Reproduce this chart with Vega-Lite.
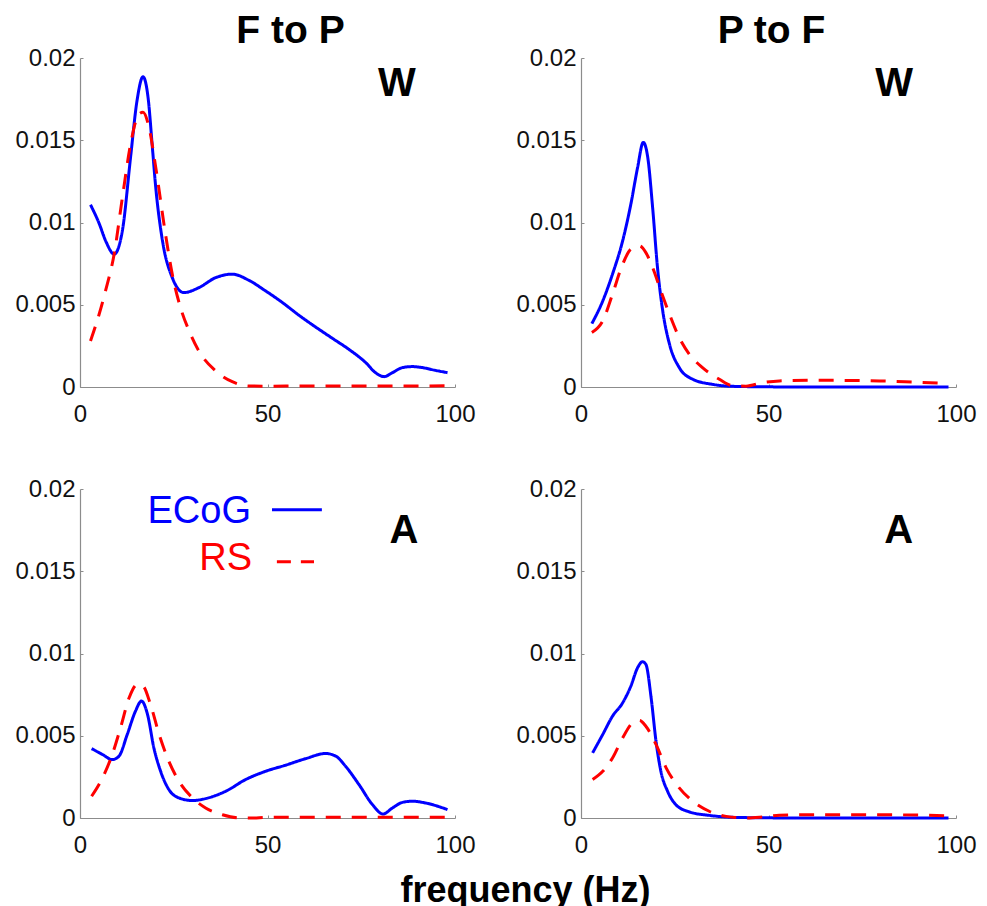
{
  "$schema": "https://vega.github.io/schema/vega-lite/v6.json",
  "padding": {"left": 14, "top": 12, "right": 5, "bottom": 0},
  "background": "white",
  "bounds": "flush",
  "columns": 2,
  "spacing": {"row": 102, "column": 126},
  "title": {"text": "frequency (Hz)", "orient": "bottom", "anchor": "middle", "fontSize": 36, "fontWeight": "bold", "font": "Liberation Sans", "color": "#000000", "offset": 17, "dx": 30},
  "datasets": {
    "curves": [
      {"p":"FP_W","s":"ECoG","f":2.8,"v":0.01108},{"p":"FP_W","s":"ECoG","f":5,"v":0.0100},{"p":"FP_W","s":"ECoG","f":7,"v":0.0088},{"p":"FP_W","s":"ECoG","f":9.1,"v":0.00807},{"p":"FP_W","s":"ECoG","f":11.3,"v":0.0095},{"p":"FP_W","s":"ECoG","f":13.5,"v":0.0140},{"p":"FP_W","s":"ECoG","f":15.2,"v":0.0174},{"p":"FP_W","s":"ECoG","f":16.8,"v":0.01886},{"p":"FP_W","s":"ECoG","f":18.2,"v":0.0175},{"p":"FP_W","s":"ECoG","f":19.3,"v":0.01456},{"p":"FP_W","s":"ECoG","f":20.2,"v":0.01213},{"p":"FP_W","s":"ECoG","f":22,"v":0.00888},{"p":"FP_W","s":"ECoG","f":24.6,"v":0.00665},{"p":"FP_W","s":"ECoG","f":27.7,"v":0.00574},{"p":"FP_W","s":"ECoG","f":31.7,"v":0.00604},{"p":"FP_W","s":"ECoG","f":36.2,"v":0.00665},{"p":"FP_W","s":"ECoG","f":40.6,"v":0.00686},{"p":"FP_W","s":"ECoG","f":45,"v":0.00649},{"p":"FP_W","s":"ECoG","f":49.5,"v":0.00584},{"p":"FP_W","s":"ECoG","f":54,"v":0.00513},{"p":"FP_W","s":"ECoG","f":58.4,"v":0.00436},{"p":"FP_W","s":"ECoG","f":62.8,"v":0.00365},{"p":"FP_W","s":"ECoG","f":67.3,"v":0.00296},{"p":"FP_W","s":"ECoG","f":71.7,"v":0.00229},{"p":"FP_W","s":"ECoG","f":76.2,"v":0.00148},{"p":"FP_W","s":"ECoG","f":78.8,"v":0.00087},{"p":"FP_W","s":"ECoG","f":81.1,"v":0.00063},{"p":"FP_W","s":"ECoG","f":83.3,"v":0.00087},{"p":"FP_W","s":"ECoG","f":86,"v":0.00118},{"p":"FP_W","s":"ECoG","f":88.6,"v":0.00124},{"p":"FP_W","s":"ECoG","f":91.3,"v":0.00118},{"p":"FP_W","s":"ECoG","f":94.8,"v":0.00101},{"p":"FP_W","s":"ECoG","f":98,"v":0.00087},
      {"p":"FP_W","s":"RS","f":2.8,"v":0.0028},{"p":"FP_W","s":"RS","f":5.1,"v":0.00442},{"p":"FP_W","s":"RS","f":6.8,"v":0.00584},{"p":"FP_W","s":"RS","f":9.1,"v":0.00807},{"p":"FP_W","s":"RS","f":11.3,"v":0.01152},{"p":"FP_W","s":"RS","f":13.5,"v":0.01477},{"p":"FP_W","s":"RS","f":15.7,"v":0.01659},{"p":"FP_W","s":"RS","f":16.8,"v":0.0167},{"p":"FP_W","s":"RS","f":18.4,"v":0.01578},{"p":"FP_W","s":"RS","f":20.2,"v":0.01335},{"p":"FP_W","s":"RS","f":22.8,"v":0.00929},{"p":"FP_W","s":"RS","f":24.6,"v":0.00686},{"p":"FP_W","s":"RS","f":26.8,"v":0.00483},{"p":"FP_W","s":"RS","f":29.1,"v":0.00341},{"p":"FP_W","s":"RS","f":31.7,"v":0.00219},{"p":"FP_W","s":"RS","f":36.2,"v":0.00097},{"p":"FP_W","s":"RS","f":40.6,"v":0.00032},{"p":"FP_W","s":"RS","f":45,"v":0.00006},{"p":"FP_W","s":"RS","f":49.5,"v":0.00005},{"p":"FP_W","s":"RS","f":60,"v":0.00006},{"p":"FP_W","s":"RS","f":70,"v":0.00006},{"p":"FP_W","s":"RS","f":80,"v":0.00006},{"p":"FP_W","s":"RS","f":90,"v":0.00006},{"p":"FP_W","s":"RS","f":98,"v":0.00008},
      {"p":"PF_W","s":"ECoG","f":2.9,"v":0.00385},{"p":"PF_W","s":"ECoG","f":5.8,"v":0.00523},{"p":"PF_W","s":"ECoG","f":8.4,"v":0.00686},{"p":"PF_W","s":"ECoG","f":11.1,"v":0.00888},{"p":"PF_W","s":"ECoG","f":13.3,"v":0.01112},{"p":"PF_W","s":"ECoG","f":15.1,"v":0.01335},{"p":"PF_W","s":"ECoG","f":16.6,"v":0.01487},{"p":"PF_W","s":"ECoG","f":17.8,"v":0.01396},{"p":"PF_W","s":"ECoG","f":19.1,"v":0.01091},{"p":"PF_W","s":"ECoG","f":20.4,"v":0.00726},{"p":"PF_W","s":"ECoG","f":21.8,"v":0.00462},{"p":"PF_W","s":"ECoG","f":23.6,"v":0.0026},{"p":"PF_W","s":"ECoG","f":26.2,"v":0.00118},{"p":"PF_W","s":"ECoG","f":29.8,"v":0.00047},{"p":"PF_W","s":"ECoG","f":35.1,"v":0.00016},{"p":"PF_W","s":"ECoG","f":40.4,"v":0.00004},{"p":"PF_W","s":"ECoG","f":50,"v":0.00001},{"p":"PF_W","s":"ECoG","f":60,"v":0},{"p":"PF_W","s":"ECoG","f":70,"v":0},{"p":"PF_W","s":"ECoG","f":80,"v":0},{"p":"PF_W","s":"ECoG","f":90,"v":0},{"p":"PF_W","s":"ECoG","f":98,"v":0},
      {"p":"PF_W","s":"RS","f":2.9,"v":0.00331},{"p":"PF_W","s":"RS","f":5.8,"v":0.00402},{"p":"PF_W","s":"RS","f":8.4,"v":0.00564},{"p":"PF_W","s":"RS","f":11.1,"v":0.00746},{"p":"PF_W","s":"RS","f":13.3,"v":0.00838},{"p":"PF_W","s":"RS","f":15.6,"v":0.00858},{"p":"PF_W","s":"RS","f":17.3,"v":0.00817},{"p":"PF_W","s":"RS","f":19.1,"v":0.00726},{"p":"PF_W","s":"RS","f":21.3,"v":0.00584},{"p":"PF_W","s":"RS","f":23.6,"v":0.00442},{"p":"PF_W","s":"RS","f":26.2,"v":0.003},{"p":"PF_W","s":"RS","f":28.9,"v":0.00199},{"p":"PF_W","s":"RS","f":32.4,"v":0.00118},{"p":"PF_W","s":"RS","f":36.9,"v":0.00047},{"p":"PF_W","s":"RS","f":40.4,"v":0.00008},{"p":"PF_W","s":"RS","f":44,"v":0.00005},{"p":"PF_W","s":"RS","f":48.4,"v":0.00026},{"p":"PF_W","s":"RS","f":52.9,"v":0.00037},{"p":"PF_W","s":"RS","f":61.8,"v":0.00041},{"p":"PF_W","s":"RS","f":70.7,"v":0.0004},{"p":"PF_W","s":"RS","f":79.6,"v":0.00037},{"p":"PF_W","s":"RS","f":88.4,"v":0.0003},{"p":"PF_W","s":"RS","f":97.3,"v":0.00022},
      {"p":"FP_A","s":"ECoG","f":3.1,"v":0.00422},{"p":"FP_A","s":"ECoG","f":6,"v":0.00386},{"p":"FP_A","s":"ECoG","f":8.6,"v":0.00355},{"p":"FP_A","s":"ECoG","f":10.4,"v":0.00376},{"p":"FP_A","s":"ECoG","f":12.6,"v":0.00508},{"p":"FP_A","s":"ECoG","f":14.8,"v":0.0065},{"p":"FP_A","s":"ECoG","f":16.4,"v":0.00711},{"p":"FP_A","s":"ECoG","f":18,"v":0.0063},{"p":"FP_A","s":"ECoG","f":19.7,"v":0.00426},{"p":"FP_A","s":"ECoG","f":21.5,"v":0.00284},{"p":"FP_A","s":"ECoG","f":23.7,"v":0.00173},{"p":"FP_A","s":"ECoG","f":26.4,"v":0.00122},{"p":"FP_A","s":"ECoG","f":30,"v":0.00106},{"p":"FP_A","s":"ECoG","f":33.5,"v":0.00118},{"p":"FP_A","s":"ECoG","f":38.8,"v":0.00162},{"p":"FP_A","s":"ECoG","f":44.2,"v":0.00234},{"p":"FP_A","s":"ECoG","f":49.5,"v":0.00284},{"p":"FP_A","s":"ECoG","f":54.8,"v":0.00321},{"p":"FP_A","s":"ECoG","f":60.2,"v":0.00361},{"p":"FP_A","s":"ECoG","f":65.5,"v":0.00392},{"p":"FP_A","s":"ECoG","f":68.2,"v":0.00376},{"p":"FP_A","s":"ECoG","f":70.8,"v":0.00315},{"p":"FP_A","s":"ECoG","f":74.4,"v":0.00203},{"p":"FP_A","s":"ECoG","f":78,"v":0.00081},{"p":"FP_A","s":"ECoG","f":80.8,"v":0.00024},{"p":"FP_A","s":"ECoG","f":83.3,"v":0.00061},{"p":"FP_A","s":"ECoG","f":86,"v":0.00095},{"p":"FP_A","s":"ECoG","f":88.6,"v":0.00102},{"p":"FP_A","s":"ECoG","f":92.2,"v":0.00091},{"p":"FP_A","s":"ECoG","f":98,"v":0.00051},
      {"p":"FP_A","s":"RS","f":3.1,"v":0.00132},{"p":"FP_A","s":"RS","f":6,"v":0.00244},{"p":"FP_A","s":"RS","f":8.6,"v":0.00386},{"p":"FP_A","s":"RS","f":10.8,"v":0.00548},{"p":"FP_A","s":"RS","f":13.1,"v":0.00731},{"p":"FP_A","s":"RS","f":15.3,"v":0.00812},{"p":"FP_A","s":"RS","f":16.8,"v":0.00802},{"p":"FP_A","s":"RS","f":18.8,"v":0.0069},{"p":"FP_A","s":"RS","f":21.1,"v":0.00508},{"p":"FP_A","s":"RS","f":23.7,"v":0.00345},{"p":"FP_A","s":"RS","f":26.4,"v":0.00223},{"p":"FP_A","s":"RS","f":30,"v":0.00122},{"p":"FP_A","s":"RS","f":33.5,"v":0.00061},{"p":"FP_A","s":"RS","f":38,"v":0.0002},{"p":"FP_A","s":"RS","f":42.4,"v":0.00001},{"p":"FP_A","s":"RS","f":46,"v":0},{"p":"FP_A","s":"RS","f":49.5,"v":0.00004},{"p":"FP_A","s":"RS","f":60,"v":0.00005},{"p":"FP_A","s":"RS","f":70,"v":0.00005},{"p":"FP_A","s":"RS","f":80,"v":0.00005},{"p":"FP_A","s":"RS","f":90,"v":0.00005},{"p":"FP_A","s":"RS","f":98,"v":0.00005},
      {"p":"PF_A","s":"ECoG","f":3.1,"v":0.00396},{"p":"PF_A","s":"ECoG","f":5.8,"v":0.00508},{"p":"PF_A","s":"ECoG","f":8.4,"v":0.00619},{"p":"PF_A","s":"ECoG","f":11.1,"v":0.007},{"p":"PF_A","s":"ECoG","f":13.3,"v":0.00802},{"p":"PF_A","s":"ECoG","f":15.1,"v":0.00914},{"p":"PF_A","s":"ECoG","f":16.4,"v":0.0095},{"p":"PF_A","s":"ECoG","f":17.3,"v":0.00934},{"p":"PF_A","s":"ECoG","f":18.7,"v":0.00731},{"p":"PF_A","s":"ECoG","f":20,"v":0.00467},{"p":"PF_A","s":"ECoG","f":21.3,"v":0.00284},{"p":"PF_A","s":"ECoG","f":23.1,"v":0.00162},{"p":"PF_A","s":"ECoG","f":25.3,"v":0.00081},{"p":"PF_A","s":"ECoG","f":28.9,"v":0.00037},{"p":"PF_A","s":"ECoG","f":34.2,"v":0.00016},{"p":"PF_A","s":"ECoG","f":40.4,"v":0.00004},{"p":"PF_A","s":"ECoG","f":50,"v":0.00001},{"p":"PF_A","s":"ECoG","f":60,"v":0},{"p":"PF_A","s":"ECoG","f":70,"v":0},{"p":"PF_A","s":"ECoG","f":80,"v":0},{"p":"PF_A","s":"ECoG","f":90,"v":0},{"p":"PF_A","s":"ECoG","f":98,"v":0},
      {"p":"PF_A","s":"RS","f":3.1,"v":0.00234},{"p":"PF_A","s":"RS","f":5.8,"v":0.00284},{"p":"PF_A","s":"RS","f":8.4,"v":0.00365},{"p":"PF_A","s":"RS","f":11.1,"v":0.00487},{"p":"PF_A","s":"RS","f":13.8,"v":0.00579},{"p":"PF_A","s":"RS","f":15.6,"v":0.00593},{"p":"PF_A","s":"RS","f":17.3,"v":0.00558},{"p":"PF_A","s":"RS","f":20,"v":0.00447},{"p":"PF_A","s":"RS","f":22.7,"v":0.00305},{"p":"PF_A","s":"RS","f":26.2,"v":0.00183},{"p":"PF_A","s":"RS","f":29.8,"v":0.00102},{"p":"PF_A","s":"RS","f":34.2,"v":0.00041},{"p":"PF_A","s":"RS","f":38.7,"v":0.0001},{"p":"PF_A","s":"RS","f":44,"v":0},{"p":"PF_A","s":"RS","f":48.4,"v":0.00006},{"p":"PF_A","s":"RS","f":52.9,"v":0.00016},{"p":"PF_A","s":"RS","f":61.8,"v":0.0002},{"p":"PF_A","s":"RS","f":79.6,"v":0.0002},{"p":"PF_A","s":"RS","f":97.3,"v":0.00014}
    ]
  },
  "concat": [
    {
      "width": 375, "height": 329,
      "title": {"text": "F to P", "dx": 23},
      "layer": [
        {
          "data": {"name": "curves"},
          "transform": [{"filter": "datum.p == 'FP_W'"}],
          "mark": {"type": "line", "interpolate": "monotone", "strokeWidth": 3},
          "encoding": {
            "x": {"field": "f", "type": "quantitative", "scale": {"domain": [0, 100], "nice": false, "zero": false}, "axis": {"values": [0, 50, 100], "title": null}},
            "y": {"field": "v", "type": "quantitative", "scale": {"domain": [0, 0.02], "nice": false}, "axis": {"values": [0, 0.005, 0.01, 0.015, 0.02], "format": "~g", "title": null}},
            "color": {"field": "s", "type": "nominal", "scale": {"domain": ["ECoG", "RS"], "range": ["#0000ff", "#ff0000"]}, "legend": null},
            "strokeDash": {"field": "s", "type": "nominal", "scale": {"domain": ["ECoG", "RS"], "range": [[1, 0], [15, 11]]}, "legend": null}
          }
        },
        {
          "data": {"values": [{}]},
          "mark": {"type": "text", "text": "W", "fontSize": 40, "fontWeight": "bold", "align": "center", "baseline": "middle", "color": "#000000"},
          "encoding": {"x": {"datum": 84.5, "type": "quantitative"}, "y": {"datum": 0.0184, "type": "quantitative"}}
        }
      ]
    },
    {
      "width": 375, "height": 329,
      "title": {"text": "P to F", "dx": 3},
      "layer": [
        {
          "data": {"name": "curves"},
          "transform": [{"filter": "datum.p == 'PF_W'"}],
          "mark": {"type": "line", "interpolate": "monotone", "strokeWidth": 3},
          "encoding": {
            "x": {"field": "f", "type": "quantitative", "scale": {"domain": [0, 100], "nice": false, "zero": false}, "axis": {"values": [0, 50, 100], "title": null}},
            "y": {"field": "v", "type": "quantitative", "scale": {"domain": [0, 0.02], "nice": false}, "axis": {"values": [0, 0.005, 0.01, 0.015, 0.02], "format": "~g", "title": null}},
            "color": {"field": "s", "type": "nominal", "scale": {"domain": ["ECoG", "RS"], "range": ["#0000ff", "#ff0000"]}, "legend": null},
            "strokeDash": {"field": "s", "type": "nominal", "scale": {"domain": ["ECoG", "RS"], "range": [[1, 0], [15, 11]]}, "legend": null}
          }
        },
        {
          "data": {"values": [{}]},
          "mark": {"type": "text", "text": "W", "fontSize": 40, "fontWeight": "bold", "align": "center", "baseline": "middle", "color": "#000000"},
          "encoding": {"x": {"datum": 83.5, "type": "quantitative"}, "y": {"datum": 0.0184, "type": "quantitative"}}
        }
      ]
    },
    {
      "width": 375, "height": 329,
      "layer": [
        {
          "data": {"name": "curves"},
          "transform": [{"filter": "datum.p == 'FP_A'"}],
          "mark": {"type": "line", "interpolate": "monotone", "strokeWidth": 3},
          "encoding": {
            "x": {"field": "f", "type": "quantitative", "scale": {"domain": [0, 100], "nice": false, "zero": false}, "axis": {"values": [0, 50, 100], "title": null}},
            "y": {"field": "v", "type": "quantitative", "scale": {"domain": [0, 0.02], "nice": false}, "axis": {"values": [0, 0.005, 0.01, 0.015, 0.02], "format": "~g", "title": null}},
            "color": {"field": "s", "type": "nominal", "scale": {"domain": ["ECoG", "RS"], "range": ["#0000ff", "#ff0000"]}, "legend": null},
            "strokeDash": {"field": "s", "type": "nominal", "scale": {"domain": ["ECoG", "RS"], "range": [[1, 0], [15, 11]]}, "legend": null}
          }
        },
        {
          "data": {"values": [{}]},
          "mark": {"type": "text", "text": "A", "fontSize": 40, "fontWeight": "bold", "align": "center", "baseline": "middle", "color": "#000000"},
          "encoding": {"x": {"datum": 86.4, "type": "quantitative"}, "y": {"datum": 0.01745, "type": "quantitative"}}
        },
        {
          "data": {"values": [{}]},
          "mark": {"type": "text", "text": "ECoG", "fontSize": 38, "align": "right", "baseline": "middle", "color": "#0000ff"},
          "encoding": {"x": {"datum": 45.6, "type": "quantitative"}, "y": {"datum": 0.01862, "type": "quantitative"}}
        },
        {
          "data": {"values": [{}]},
          "mark": {"type": "text", "text": "RS", "fontSize": 38, "align": "right", "baseline": "middle", "color": "#ff0000"},
          "encoding": {"x": {"datum": 45.9, "type": "quantitative"}, "y": {"datum": 0.01572, "type": "quantitative"}}
        },
        {
          "data": {"values": [{}]},
          "mark": {"type": "rule", "color": "#0000ff", "strokeWidth": 3},
          "encoding": {"x": {"datum": 51.2, "type": "quantitative"}, "x2": {"datum": 64.5}, "y": {"datum": 0.01874, "type": "quantitative"}}
        },
        {
          "data": {"values": [{}]},
          "mark": {"type": "rule", "color": "#ff0000", "strokeWidth": 3, "strokeDash": [14, 10]},
          "encoding": {"x": {"datum": 52.5, "type": "quantitative"}, "x2": {"datum": 62.4}, "y": {"datum": 0.01557, "type": "quantitative"}}
        }
      ]
    },
    {
      "width": 375, "height": 329,
      "layer": [
        {
          "data": {"name": "curves"},
          "transform": [{"filter": "datum.p == 'PF_A'"}],
          "mark": {"type": "line", "interpolate": "monotone", "strokeWidth": 3},
          "encoding": {
            "x": {"field": "f", "type": "quantitative", "scale": {"domain": [0, 100], "nice": false, "zero": false}, "axis": {"values": [0, 50, 100], "title": null}},
            "y": {"field": "v", "type": "quantitative", "scale": {"domain": [0, 0.02], "nice": false}, "axis": {"values": [0, 0.005, 0.01, 0.015, 0.02], "format": "~g", "title": null}},
            "color": {"field": "s", "type": "nominal", "scale": {"domain": ["ECoG", "RS"], "range": ["#0000ff", "#ff0000"]}, "legend": null},
            "strokeDash": {"field": "s", "type": "nominal", "scale": {"domain": ["ECoG", "RS"], "range": [[1, 0], [15, 11]]}, "legend": null}
          }
        },
        {
          "data": {"values": [{}]},
          "mark": {"type": "text", "text": "A", "fontSize": 40, "fontWeight": "bold", "align": "center", "baseline": "middle", "color": "#000000"},
          "encoding": {"x": {"datum": 84.7, "type": "quantitative"}, "y": {"datum": 0.01745, "type": "quantitative"}}
        }
      ]
    }
  ],
  "config": {
    "font": "Liberation Sans",
    "view": {"stroke": null},
    "title": {"fontSize": 39, "fontWeight": "bold", "color": "#000000", "anchor": "middle", "offset": -5, "font": "Liberation Sans"},
    "axis": {
      "grid": false,
      "domainColor": "#8c8c8c",
      "domainWidth": 1.2,
      "tickColor": "#8c8c8c",
      "tickSize": -3,
      "labelFontSize": 24,
      "labelColor": "#111111",
      "labelFont": "Liberation Sans",
      "labelPadding": 8,
      "labelFlush": false
    },
    "axisX": {"labelPadding": 18}
  }
}
